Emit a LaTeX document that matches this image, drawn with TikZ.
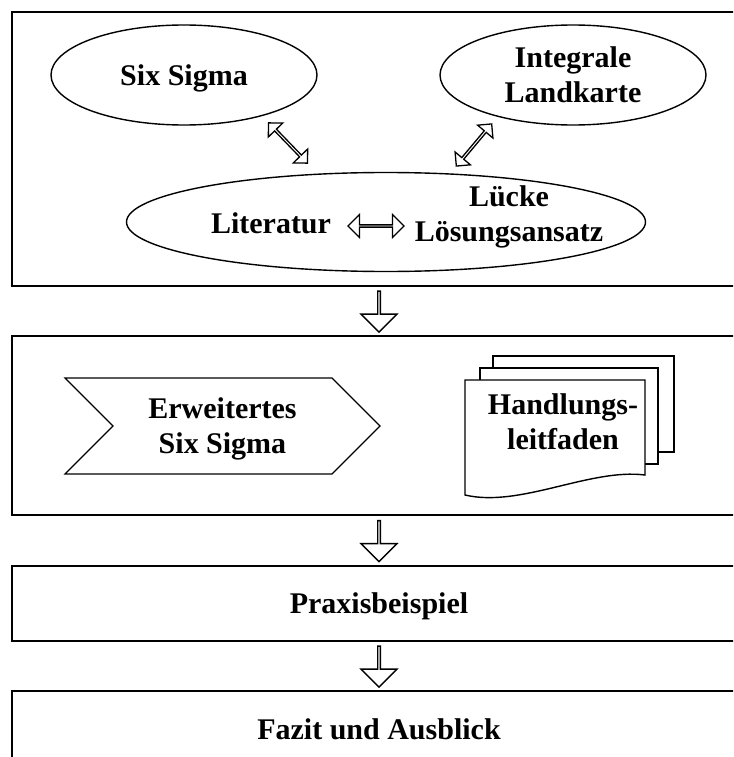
\documentclass[tikz,border=0pt]{standalone}
\usepackage{fontspec}
\setmainfont{Liberation Serif}
\usetikzlibrary{calc,positioning,shapes.geometric,shapes.arrows,shapes.symbols}

\begin{document}
\begin{tikzpicture}[x=1pt, y=-1pt, font=\bfseries\fontsize{30}{35}\selectfont]
  \tikzset{stage/.style={draw, line width=2pt, minimum width=734pt, minimum height=#1, inner sep=0pt, text depth=0pt}}
  \tikzset{idea/.style={ellipse, draw, line width=1.4pt, minimum width=266pt, minimum height=100pt, inner sep=0pt, align=center, text depth=0pt}}
  \tikzset{flow/.style={single arrow, draw, line width=1.4pt, fill=white, minimum height=41pt, minimum width=36pt, single arrow head extend=9pt, inner sep=0pt, shape border rotate=270}}
  \tikzset{twoway/.style={double arrow, draw, line width=1.3pt, fill=white, minimum height=#1, minimum width=20pt, double arrow head extend=4.5pt, inner sep=0pt}}
  \tikzset{sheet/.style={draw, line width=1.4pt, fill=white}}
  \useasboundingbox (0,0) rectangle (733,757);
  \clip (0,0) rectangle (733,757);
  % Grundlagen
  \node[stage=274pt] (ph1) at (379,149) {};
  \node[idea] (six) at (184,75) {Six Sigma};
  \node[idea] (map) at (573,75) {Integrale\\Landkarte};
  \node[ellipse, draw, line width=1.4pt, minimum width=519pt, minimum height=99pt] (base) at (386,222) {};
  \node[anchor=base] (lit) at (271,233) {Literatur};
  \node[align=center, text depth=0pt] (gap) at (509,214) {Lücke\\Lösungsansatz};
  \node[twoway=56pt, minimum width=23pt, double arrow head extend=6pt] (lg) at (376,226) {};
  \node[twoway=56pt, rotate=-46] (sb) at (288,143) {};
  \node[twoway=55pt, rotate=50] (mb) at (474,145) {};
  % Konzept
  \node[stage=179pt] (ph2) at (379,425.5) {};
  \node[signal, signal to=east, signal from=west, draw, line width=1.2pt, minimum width=315pt, minimum height=96pt, inner sep=0pt, align=center, text depth=0pt] (ess) at (222.5,426) {Erweitertes\\Six Sigma};
  \draw[sheet] (493,356) rectangle (674,452);
  \draw[sheet] (480,368) rectangle (658,464);
  \draw[sheet] (465,380) -- (645,380) -- (645,475) .. controls (590,468) and (520,508) .. (465,495) -- cycle;
  \node[align=center] (guide) at (563,422) {Handlungs-\\leitfaden};
  % Anwendung
  \node[stage=75pt] (ph3) at (379,603.5) {Praxisbeispiel};
  \node[stage=76pt] (ph4) at (379,729) {Fazit und Ausblick};
  \foreach \a/\b in {ph1/ph2, ph2/ph3, ph3/ph4}
    \node[flow] at ($(\a.south)!0.5!(\b.north)$) {};
\end{tikzpicture}
\end{document}
